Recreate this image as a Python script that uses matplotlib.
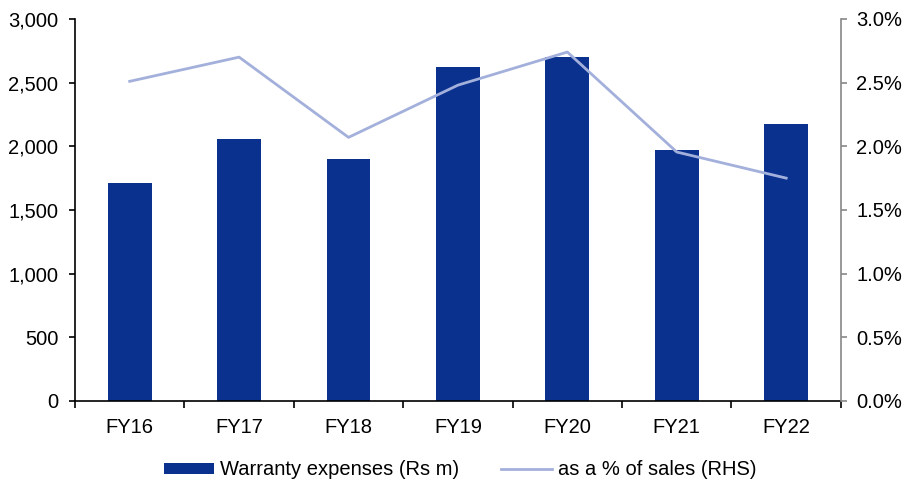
import matplotlib.pyplot as plt
import numpy as np
from matplotlib.ticker import FuncFormatter, MultipleLocator, FixedLocator

plt.rcParams['font.family'] = ['Liberation Sans', 'DejaVu Sans']

years = ['FY16', 'FY17', 'FY18', 'FY19', 'FY20', 'FY21', 'FY22']
warranty = [1712, 2058, 1900, 2622, 2700, 1971, 2176]
pct_sales = [2.51, 2.70, 2.07, 2.48, 2.74, 1.955, 1.75]

bar_color = '#0B318F'
line_color = '#A3B0DB'
fs = 14.5

fig = plt.figure(figsize=(9.2, 4.83), dpi=100)
ax = fig.add_axes([0.0815, 0.1698, 0.8325, 0.791])
x = np.arange(len(years))

bars = ax.bar(x, warranty, width=0.4, color=bar_color, label='Warranty expenses (Rs m)', zorder=2)
ax.set_xlim(-0.5, len(years) - 0.5)
ax.set_ylim(0, 3000)
ax.yaxis.set_major_locator(MultipleLocator(500))
ax.yaxis.set_major_formatter(FuncFormatter(lambda v, p: f'{v:,.0f}'))
ax.set_xticks(x)
ax.set_xticklabels(years)
# category boundary ticks on the x axis
ax.xaxis.set_minor_locator(FixedLocator(np.arange(-0.5, len(years), 1)))
ax.tick_params(axis='x', which='major', length=0, labelsize=fs, pad=12)
ax.tick_params(axis='x', which='minor', length=5, width=1.2, direction='out')
ax.tick_params(axis='y', length=4, width=1.2, direction='out', labelsize=fs, pad=8)
ax.spines['top'].set_visible(False)
ax.spines['right'].set_visible(False)
ax.spines['left'].set_linewidth(1.2)
ax.spines['bottom'].set_linewidth(1.2)

ax2 = ax.twinx()
line, = ax2.plot(x, pct_sales, color=line_color, linewidth=2, label='as a % of sales (RHS)', zorder=3)
ax2.set_ylim(0, 3.0)
ax2.yaxis.set_major_locator(MultipleLocator(0.5))
ax2.yaxis.set_major_formatter(FuncFormatter(lambda v, p: f'{v:.1f}%'))
ax2.tick_params(axis='y', length=4, width=1.2, direction='out', color='#888888', labelsize=fs, pad=7)
for s in ['top', 'left', 'bottom']:
    ax2.spines[s].set_visible(False)
ax2.spines['right'].set_color('#888888')
ax2.spines['right'].set_linewidth(1.2)

fig.legend([bars, line], [bars.get_label(), line.get_label()], loc='center',
           bbox_to_anchor=(0.5, 0.027), ncol=2, frameon=False, fontsize=fs,
           handlelength=2.5, handletextpad=0.3, columnspacing=2.1, handleheight=0.5)

fig.savefig('out.png', dpi=100)
